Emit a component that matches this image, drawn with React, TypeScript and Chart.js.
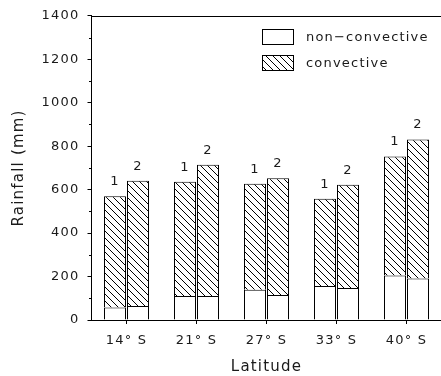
import React, { useEffect, useRef } from "react";
import { Chart, registerables } from "chart.js";
Chart.register(...registerables);

const categories = ["14° S", "21° S", "27° S", "33° S", "40° S"];
const nonConvective1 = [58, 110, 139, 156, 205];
const convective1 = [511, 526, 488, 402, 548];
const nonConvective2 = [64, 110, 115, 147, 191];
const convective2 = [577, 604, 537, 476, 640];
const barLabels = ["1", "2"];
const yMin = 0;
const yMax = 1400;
const yStep = 200;
const legendLabels = ["non\u2212convective", "convective"];

const FONT = "'DejaVu Sans', sans-serif";
const INK = "#1a1a1a";

function makeHatch(): CanvasPattern | string {
  const s = 7;
  const c = document.createElement("canvas");
  c.width = s;
  c.height = s;
  const g = c.getContext("2d");
  if (!g) return "#fff";
  g.fillStyle = "#fff";
  g.fillRect(0, 0, s, s);
  g.strokeStyle = "#000";
  g.lineWidth = 1;
  g.beginPath();
  g.moveTo(-1, -1);
  g.lineTo(s + 1, s + 1);
  g.moveTo(-1, s - 1);
  g.lineTo(1, s + 1);
  g.moveTo(s - 1, -1);
  g.lineTo(s + 1, 1);
  g.stroke();
  const p = g.createPattern(c, "repeat");
  return p || "#fff";
}

export default function App() {
  const ref = useRef<HTMLCanvasElement | null>(null);

  useEffect(() => {
    const canvas = ref.current;
    if (!canvas) return;
    const hatch = makeHatch();

    const spacingPlugin = {
      id: "spacing",
      beforeLayout(chart: any) {
        chart.ctx.letterSpacing = "1.2px";
      },
      beforeDraw(chart: any) {
        chart.ctx.letterSpacing = "1.2px";
        const { ctx } = chart;
        ctx.save();
        ctx.fillStyle = "#fff";
        ctx.fillRect(0, 0, chart.width, chart.height);
        ctx.restore();
      },
    };

    const decorPlugin = {
      id: "decor",
      afterDatasetsDraw(chart: any) {
        const { ctx, chartArea } = chart;
        ctx.save();
        ctx.letterSpacing = "1.2px";
        ctx.fillStyle = INK;
        ctx.font = `13px ${FONT}`;
        ctx.textAlign = "center";
        ctx.textBaseline = "bottom";
        [1, 3].forEach((di, k) => {
          const meta = chart.getDatasetMeta(di);
          meta.data.forEach((el: any) => {
            ctx.fillText(barLabels[k], el.x, el.y - 8);
          });
        });
        // top border
        ctx.strokeStyle = "#000";
        ctx.lineWidth = 1;
        ctx.beginPath();
        ctx.moveTo(Math.floor(chartArea.left), Math.round(chartArea.top) + 0.5);
        ctx.lineTo(chartArea.right, Math.round(chartArea.top) + 0.5);
        ctx.stroke();
        // minor y ticks
        const ys = chart.scales.y;
        const ax = Math.floor(chartArea.left);
        ctx.beginPath();
        for (let v = yMin + yStep / 2; v < yMax; v += yStep) {
          const py = Math.round(ys.getPixelForValue(v)) + 0.5;
          ctx.moveTo(ax - 2, py);
          ctx.lineTo(ax, py);
        }
        ctx.stroke();
        // legend
        const bx = 262;
        const bw = 31;
        const bh = 15;
        const rows = [29, 55];
        const fills = ["#fff", hatch];
        rows.forEach((ry, i) => {
          ctx.fillStyle = fills[i];
          ctx.fillRect(bx, ry, bw, bh);
          ctx.strokeStyle = "#000";
          ctx.strokeRect(bx + 0.5, ry + 0.5, bw, bh);
          ctx.fillStyle = INK;
          ctx.textAlign = "left";
          ctx.textBaseline = "middle";
          ctx.font = `13px ${FONT}`;
          ctx.fillText(legendLabels[i], 306, ry + bh / 2 + 1);
        });
        ctx.restore();
      },
    };

    const common = {
      borderColor: "#000",
      borderWidth: 1,
      borderSkipped: "start",
      categoryPercentage: 46 / 70,
      barPercentage: 22 / 23,
    };

    const chart = new Chart(canvas, {
      type: "bar",
      data: {
        labels: categories,
        datasets: [
          { ...common, label: legendLabels[0], data: nonConvective1, backgroundColor: "#fff", stack: "1" },
          { ...common, label: legendLabels[1], data: convective1, backgroundColor: hatch as any, stack: "1" },
          { ...common, label: legendLabels[0], data: nonConvective2, backgroundColor: "#fff", stack: "2" },
          { ...common, label: legendLabels[1], data: convective2, backgroundColor: hatch as any, stack: "2" },
        ] as any,
      },
      options: {
        animation: false,
        responsive: false,
        devicePixelRatio: 1,
        layout: { padding: { top: 15, right: 0.5, bottom: 0, left: 0 } },
        plugins: {
          legend: { display: false },
          tooltip: { enabled: false },
        },
        scales: {
          x: {
            stacked: true,
            grid: { display: true, drawOnChartArea: false, offset: false, tickLength: 4, color: "#000" },
            border: { display: true, color: "#000" },
            ticks: { color: INK, font: { family: FONT, size: 13 }, padding: 9, maxRotation: 0 },
            title: {
              display: true,
              text: "Latitude",
              color: INK,
              font: { family: FONT, size: 15 },
              padding: { top: 0, bottom: 0 },
            },
            afterFit(scale: any) {
              scale.height = 56;
            },
          },
          y: {
            stacked: true,
            min: yMin,
            max: yMax,
            grid: { display: true, drawOnChartArea: false, tickLength: 4, color: "#000" },
            border: { display: true, color: "#000" },
            ticks: {
              stepSize: yStep,
              color: INK,
              font: { family: FONT, size: 13 },
              padding: 8,
              callback: (v: any) => String(v),
            },
            title: {
              display: true,
              text: "Rainfall (mm)",
              color: INK,
              font: { family: FONT, size: 15 },
              padding: { top: 10, bottom: 0 },
            },
            afterFit(scale: any) {
              scale.width = 91.5;
            },
          },
        },
      } as any,
      plugins: [spacingPlugin, decorPlugin],
    });
    return () => chart.destroy();
  }, []);

  return (
    <div style={{ position: "fixed", left: 0, top: 0, width: 441, height: 376, overflow: "hidden", background: "#fff" }}>
      <canvas ref={ref} width={442} height={376} style={{ display: "block", width: 442, height: 376 }} />
    </div>
  );
}
